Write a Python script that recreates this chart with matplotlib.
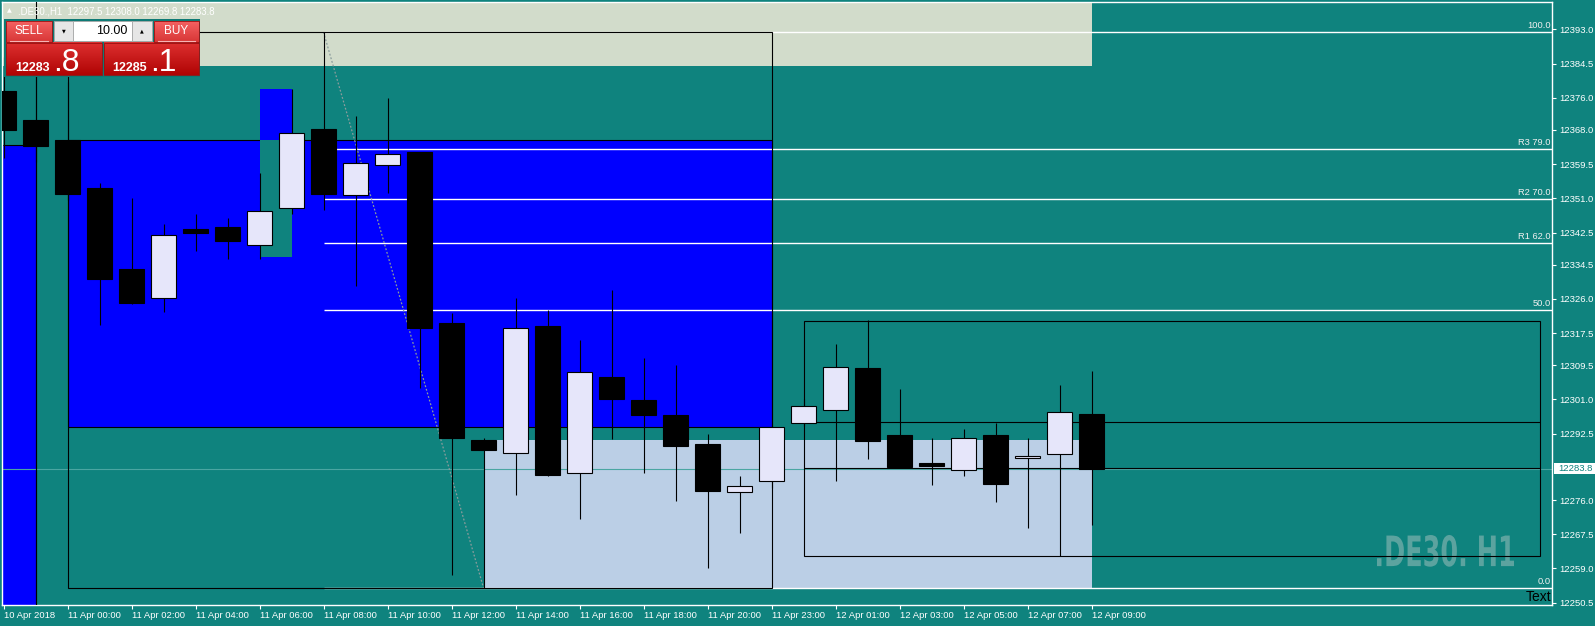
import matplotlib
matplotlib.use("Agg")
import matplotlib.pyplot as plt
import numpy as np
from matplotlib.patches import Rectangle, PathPatch
from matplotlib.textpath import TextPath
from matplotlib.font_manager import FontProperties
from matplotlib.transforms import Affine2D, IdentityTransform
from matplotlib.colors import LinearSegmentedColormap

W, H, DPI = 1595, 626, 100

# ---------------- data ----------------
symbol = ".DE30.,H1"
title_values = ["12297.5", "12308.0", "12269.8", "12283.8"]
watermark = ".DE30. H1"
lot_size = "10.00"

opens = [12377.7, 12370.5, 12365.4, 12353.5, 12333.4, 12326.1, 12343.4, 12343.9, 12339.3, 12348.7,
         12368.2, 12351.7, 12359.4, 12362.5, 12320.0, 12290.9, 12287.6, 12319.3, 12282.8, 12306.7,
         12300.9, 12297.1, 12290.0, 12277.9, 12280.7, 12295.2, 12298.3, 12308.8, 12292.2, 12285.2,
         12283.4, 12292.2, 12286.4, 12287.5, 12297.5]
highs = [12386.0, 12387.0, 12380.0, 12354.7, 12351.0, 12344.6, 12347.1, 12346.2, 12357.3, 12378.2,
         12392.3, 12371.5, 12375.9, 12362.6, 12322.6, 12291.4, 12326.1, 12323.2, 12315.8, 12328.3,
         12311.4, 12309.5, 12292.4, 12282.0, 12294.5, 12301.0, 12314.8, 12320.7, 12303.6, 12291.4,
         12293.7, 12295.2, 12291.4, 12304.6, 12308.0]
lows = [12361.0, 12360.0, 12350.5, 12319.4, 12324.8, 12322.8, 12337.9, 12335.8, 12336.0, 12347.1,
        12348.2, 12329.3, 12352.2, 12303.9, 12257.5, 12254.2, 12277.2, 12282.0, 12271.2, 12291.2,
        12282.7, 12275.8, 12259.2, 12267.9, 12279.0, 12294.5, 12280.7, 12286.2, 12284.0, 12279.8,
        12282.1, 12275.6, 12269.1, 12262.0, 12269.8]
closes = [12367.9, 12364.1, 12352.1, 12331.0, 12325.0, 12342.0, 12342.5, 12340.4, 12347.8, 12367.2,
          12352.1, 12359.7, 12361.9, 12318.8, 12291.4, 12288.5, 12318.7, 12282.3, 12307.8, 12301.2,
          12297.2, 12289.4, 12278.3, 12279.4, 12294.1, 12299.5, 12309.0, 12290.8, 12284.3, 12284.5,
          12291.4, 12280.1, 12286.9, 12297.8, 12283.8]

time_tick_pos = list(range(0, 35, 2))
time_tick_labels = ["10 Apr 2018", "11 Apr 00:00", "11 Apr 02:00", "11 Apr 04:00", "11 Apr 06:00",
                    "11 Apr 08:00", "11 Apr 10:00", "11 Apr 12:00", "11 Apr 14:00", "11 Apr 16:00",
                    "11 Apr 18:00", "11 Apr 20:00", "11 Apr 23:00", "12 Apr 01:00", "12 Apr 03:00",
                    "12 Apr 05:00", "12 Apr 07:00", "12 Apr 09:00"]
price_ticks = [12393.0, 12384.5, 12376.0, 12368.0, 12359.5, 12351.0, 12342.5, 12334.5, 12326.0,
               12317.5, 12309.5, 12301.0, 12292.5, 12276.0, 12267.5, 12259.0, 12250.5]
bid_price = 12283.8
ask_price = 12285.1

fib_bars = [10, 15]
fib_high, fib_low = 12392.3, 12254.2
fib_levels = [0.0, 0.5, 0.62, 0.70, 0.79, 1.0]
fib_labels = ["0.0", "50.0", "R1 62.0", "R2 70.0", "R3 79.0", "100.0"]

# rectangles: (bar_from, bar_to, price_low, price_high)
zone_top = (-2, 34, 12384.0, 12420.0)
zone_left = (-2, 1, 12240.0, 12364.2)
zone_main = (2, 24, 12294.1, 12365.4)
zone_small = (8, 9, 12336.3, 12378.2)
zone_low = (15, 34, 12254.2, 12290.9)
fib_frame = (2, 24, fib_low, fib_high)
range_box = (25, 48, 12262.0, 12320.6)
range_box_levels = [12295.3, 12283.9]
vline_bar = 1

# ---------------- style ----------------
TEAL = "#0f837e"
BLUE = "#0000ff"
LAV = "#e6e6fa"
BAND = "#d2dccb"
LIGHT = "#bbcfe6"
UI = "Liberation Sans"

fig = plt.figure(figsize=(W / DPI, H / DPI), dpi=DPI, facecolor=TEAL)

# axes placement in pixels
L_px, R_px, T_px, B_px = 2.3, 1552.0, 2.3, 605.0
ax = fig.add_axes([L_px / W, (H - B_px) / H, (R_px - L_px) / W, (B_px - T_px) / H])
ax.set_facecolor(TEAL)
bar0_px, bar_w_px = 3.5, 32.0
ax.set_xlim((L_px - bar0_px) / bar_w_px, (R_px - bar0_px) / bar_w_px)
s = (12393.0 - 12250.5) / (602.7 - 29.3)
ax.set_ylim(12250.5 - (B_px - 602.7) * s, 12393.0 + (29.3 - T_px) * s)
x_max = ax.get_xlim()[1]

for sp in ax.spines.values():
    sp.set_color("white")
    sp.set_linewidth(1.0)


def rect(z, fc, ec="none", lw=0.8, zorder=1):
    b0, b1, p0, p1 = z
    ax.add_patch(Rectangle((b0, p0), b1 - b0, p1 - p0, facecolor=fc, edgecolor=ec,
                           linewidth=lw, zorder=zorder))


rect(zone_top, BAND, zorder=1)
rect(zone_left, BLUE, ec="black", zorder=1.2)
rect(zone_main, BLUE, ec="black", zorder=1.2)
rect(zone_low, LIGHT, zorder=1.1)
# small zone drawn XOR-style over main zone
rect(zone_small, BLUE, zorder=1.3)
ov = (max(zone_small[0], zone_main[0]), min(zone_small[1], zone_main[1]),
      max(zone_small[2], zone_main[2]), min(zone_small[3], zone_main[3]))
if ov[0] < ov[1] and ov[2] < ov[3]:
    rect(ov, TEAL, zorder=1.4)

# watermark (pixel box)
fp = FontProperties(family="DejaVu Sans", weight="bold")
tp = TextPath((0, 0), watermark, size=1, prop=fp)
ext = tp.get_extents()
wx0, wx1, wy0, wy1 = 1377.0, 1514.0, 535.0, 566.7
tr = Affine2D().translate(-ext.x0, -ext.y0).scale((wx1 - wx0) / ext.width, (wy1 - wy0) / ext.height) \
    .translate(wx0, H - wy1)
ax.add_patch(PathPatch(tr.transform_path(tp), facecolor="#5ca39f", edgecolor="none",
                       transform=IdentityTransform(), zorder=1.8))

# bid line
ax.axhline(bid_price, color="#4aa6a2", lw=0.8, zorder=2)

# fibonacci
for lv, lab in zip(fib_levels, fib_labels):
    p = fib_low + lv * (fib_high - fib_low)
    ax.hlines(p, fib_bars[0], x_max, color="white", lw=1.0, zorder=3)
    ax.text(0.9993, p + 0.5, lab, transform=ax.get_yaxis_transform(), ha="right", va="bottom",
            fontsize=6.7, color="#f0f0f0", family=UI, zorder=9)
ax.plot(fib_bars, [fib_high, fib_low], color="#8a9c9c", lw=0.9, ls=(0, (1.5, 1.5)), zorder=3.5)

# outlines
rect(fib_frame, "none", ec="black", zorder=4)
rect(range_box, "none", ec="black", zorder=4)
for lv in range_box_levels:
    ax.hlines(lv, range_box[0], range_box[1], color="black", lw=0.8, zorder=4)
ax.axvline(vline_bar, color="black", lw=0.8, zorder=5)

# candles
for i, (o, h, l, c) in enumerate(zip(opens, highs, lows, closes)):
    ax.vlines(i, l, h, color="black", lw=0.8, zorder=5)
    bull = c >= o
    ax.add_patch(Rectangle((i - 0.39, min(o, c)), 0.78, max(abs(c - o), 0.3),
                           facecolor=LAV if bull else "black", edgecolor="black",
                           linewidth=0.8, zorder=6))

# "Text" label
ax.text(0.9993, 12251.9, "Text", transform=ax.get_yaxis_transform(), ha="right", va="center",
        fontsize=10, color="black", family=UI, zorder=9)

# ticks
ax.set_xticks(time_tick_pos)
ax.set_xticklabels(time_tick_labels, ha="left", fontsize=6.8, family=UI)
ax.tick_params(axis="x", colors="white", length=3, width=0.8, pad=1.5)
ax.yaxis.tick_right()
ax.set_yticks(price_ticks)
ax.set_yticklabels([f"{p:.1f}" for p in price_ticks], fontsize=6.8, family=UI)
ax.tick_params(axis="y", colors="white", length=3, width=0.8, pad=2.2)

# ---------------- overlay (pixel coords) ----------------
ov_ax = fig.add_axes([0, 0, 1, 1], zorder=10)
ov_ax.set_axis_off()
ov_ax.patch.set_alpha(0)


def grad(x0, y0, x1, y1, top, bot):
    cm = LinearSegmentedColormap.from_list("g", [top, bot])
    ov_ax.imshow(np.linspace(0, 1, 64)[:, None], cmap=cm, aspect="auto",
                 extent=(x0, x1, y1, y0), origin="upper", zorder=2, interpolation="bilinear")
    ov_ax.add_patch(Rectangle((x0, y0), x1 - x0, y1 - y0, fc="none", ec="#9a1010", lw=0.6, zorder=3))


# title
ov_ax.text(7, 11.2, "\u25B2", fontsize=4.5, color="white", family="DejaVu Sans", va="center")
ov_ax.text(18, 11, symbol + "  " + " ".join(title_values), fontsize=6.9, color="white",
           family=UI, va="center")

# trade panel
ov_ax.add_patch(Rectangle((4, 19), 196, 58, fc="#0e7a75", ec="none", zorder=1))
grad(6, 20.7, 51.7, 41.7, "#f46262", "#d83636")
grad(154, 20.7, 198.7, 41.7, "#f46262", "#d83636")
ov_ax.text(29, 30.5, "SELL", ha="center", va="center", fontsize=8.5, color="white", family=UI, zorder=4)
ov_ax.text(176.3, 30.5, "BUY", ha="center", va="center", fontsize=8.5, color="white", family=UI, zorder=4)
ov_ax.plot([10, 48], [40.8, 40.8], color="#f6b4b4", lw=0.8, zorder=4)
ov_ax.plot([157.5, 195], [40.8, 40.8], color="#f6b4b4", lw=0.8, zorder=4)
ov_ax.add_patch(Rectangle((54, 20.7), 19.3, 20, fc="#e6e6e6", ec="#a8a8a8", lw=0.6, zorder=2))
ov_ax.add_patch(Rectangle((73.3, 20.7), 58.4, 20, fc="white", ec="#a8a8a8", lw=0.6, zorder=2))
ov_ax.add_patch(Rectangle((131.7, 20.7), 20, 20, fc="#e6e6e6", ec="#a8a8a8", lw=0.6, zorder=2))
ov_ax.text(63.7, 30.5, "\u25BC", ha="center", va="center", fontsize=3.5, color="black",
           family="DejaVu Sans", zorder=4)
ov_ax.text(141.7, 30.5, "\u25B2", ha="center", va="center", fontsize=3.5, color="black",
           family="DejaVu Sans", zorder=4)
ov_ax.text(127, 30.8, lot_size, ha="right", va="center", fontsize=9, color="black", family=UI, zorder=4)
grad(6, 42.7, 101.7, 75, "#de3030", "#b00404")
grad(104.3, 42.7, 198.7, 75, "#de3030", "#b00404")
for px0, price in [(15, bid_price), (112.5, ask_price)]:
    whole, frac = f"{price:.1f}".split(".")
    ov_ax.text(px0, 71, whole, ha="left", va="baseline", fontsize=9, fontweight="bold",
               color="white", family=UI, zorder=4)
    ov_ax.text(px0 + 38, 71, "." + frac, ha="left", va="baseline", fontsize=23,
               color="white", family=UI, zorder=4)

# current price tag on the price scale
y_bid = (ax.transData.transform((0, bid_price))[1])
yb = H - y_bid
ov_ax.add_patch(Rectangle((1554, yb - 5.5), 41, 11, fc="white", ec="none", zorder=2))
ov_ax.text(1558.5, yb, f"{bid_price:.1f}", ha="left", va="center", fontsize=6.8,
           color=TEAL, family=UI, zorder=4)

ov_ax.set_xlim(0, W)
ov_ax.set_ylim(H, 0)

fig.savefig("out.png", dpi=DPI, facecolor=TEAL)
